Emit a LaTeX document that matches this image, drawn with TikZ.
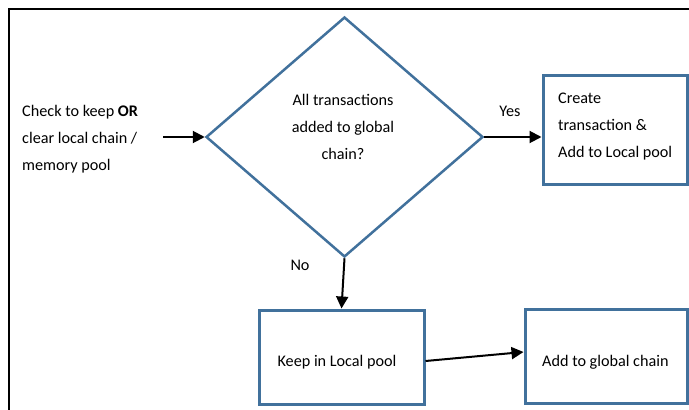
\documentclass[tikz,border=0pt]{standalone}
\usepackage{fontspec}
\setmainfont{Carlito}
\usetikzlibrary{shapes.geometric,arrows.meta}
\definecolor{edgeblue}{HTML}{41719C}
\begin{document}
\begin{tikzpicture}[x=1pt,y=-1pt,
  box/.style={draw=edgeblue,line width=3pt,fill=white,inner sep=0pt},
  txt/.style={font=\fontsize{16.2}{27}\selectfont,inner sep=0pt},
  arr/.style={-{Triangle[length=12pt,width=12pt]},line width=2pt,black}]
\clip (0,0) rectangle (689,410);
\fill[white] (0,0) rectangle (689,410);
% frame
\draw[line width=2pt] (9,410) -- (9,9) -- (689,9);
% diamond
\node[diamond,draw=edgeblue,line width=2.5pt,inner sep=0pt,minimum width=277pt,minimum height=240pt] (dia) at (344.5,137) {};
\node[txt,align=center] (q) at (343,127) {All transactions\\added to global\\chain?};
% boxes
\node[box,minimum width=144pt,minimum height=109pt] (create) at (615,129.5) {};
\node[txt,align=left,anchor=west] (createtxt) at (558,127) {Create\\transaction \&\\Add to Local pool};
\node[box,minimum width=165pt,minimum height=94pt] (keep) at (341.5,357) {};
\node[txt] (keeptxt) at (337,362) {Keep in Local pool};
\node[box,minimum width=162pt,minimum height=94pt] (global) at (606,356) {};
\node[txt,anchor=west] (globaltxt) at (542,362) {Add to global chain};
% input text
\node[txt,align=left,anchor=west] (check) at (22,139) {Check to keep \textbf{OR}\\clear local chain /\\memory pool};
\coordinate (instart) at (163,137);
% labels
\node[txt] (yes) at (510,111) {Yes};
\node[txt] (no) at (300,265) {No};
% connectors
\draw[arr] (instart) -- (dia.west);
\draw[arr] (dia.east) -- (dia.east -| create.west);
\draw[arr] (dia.south) -- (keep.north);
\draw[arr] ([yshift=-4pt]keep.east) -- ([yshift=4pt]global.west);
\end{tikzpicture}
\end{document}
